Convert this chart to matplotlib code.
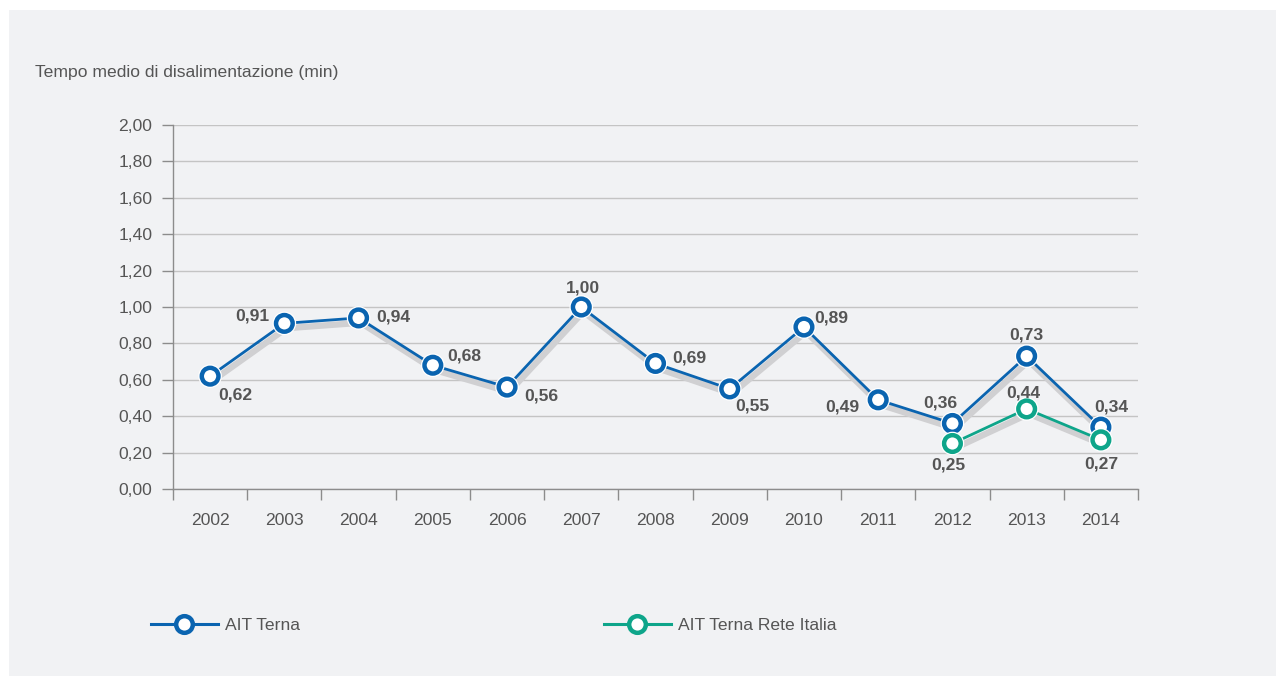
import matplotlib
matplotlib.use("Agg")
import matplotlib.pyplot as plt
import matplotlib.patheffects as pe
from matplotlib.patches import Rectangle
from matplotlib.lines import Line2D
from matplotlib.ticker import FixedLocator, FuncFormatter

plt.rcParams["font.family"] = ["Liberation Sans", "DejaVu Sans"]

# --- data -------------------------------------------------------------
years = ["2002", "2003", "2004", "2005", "2006", "2007", "2008",
         "2009", "2010", "2011", "2012", "2013", "2014"]
ait_terna = [0.62, 0.91, 0.94, 0.68, 0.56, 1.00, 0.69,
             0.55, 0.89, 0.49, 0.36, 0.73, 0.34]
rete_years = ["2012", "2013", "2014"]
ait_rete_italia = [0.25, 0.44, 0.27]
y_ticks = [0.0, 0.2, 0.4, 0.6, 0.8, 1.0, 1.2, 1.4, 1.6, 1.8, 2.0]
series_names = ["AIT Terna", "AIT Terna Rete Italia"]
y_title = "Tempo medio di disalimentazione (min)"

# label placement (pixel offsets from each point)
terna_offsets = [(25, -19), (-32, 7), (35, 1), (31, 9), (34, -9), (2, 19),
                 (34, 5), (23, -17), (27, 9), (-36, -7), (-12, 20), (0, 21),
                 (10, 20)]
rete_offsets = [(-4, -22), (-3, 16), (0, -24)]

BLUE = "#0a64b0"
GREEN = "#0ea58a"
TEXT = "#555555"
GRID = "#c4c4c4"
AXIS = "#8c8c8c"
PANEL = "#f1f2f4"
FS = 12.6

W, H = 1284, 685
fig = plt.figure(figsize=(W / 100, H / 100), dpi=100)
fig.patch.set_facecolor("white")
fig.patches.append(Rectangle((9 / W, 1 - 676 / H), (1276 - 9) / W, (676 - 10) / H,
                             transform=fig.transFigure, facecolor=PANEL,
                             edgecolor="none", zorder=-10))

ax = fig.add_axes([173 / W, 1 - 489 / H, (1138 - 173) / W, (489 - 125) / H])
ax.set_facecolor("none")
ax.set_zorder(2)

x_terna = list(range(len(years)))
x_rete = [years.index(y) for y in rete_years]

shadow = [pe.SimpleLineShadow(offset=(1.5, -3.5), shadow_color="#d0d0d2",
                              alpha=1, linewidth=4.5), pe.Normal()]

def draw_series(xs, ys, color, offsets):
    ax.plot(xs, ys, color=color, lw=2, zorder=3, path_effects=shadow,
            solid_capstyle="round")
    ax.plot(xs, ys, ls="none", marker="o", ms=12, mfc="white", mec=color,
            mew=3.2, zorder=4,
            path_effects=[pe.Stroke(linewidth=5, foreground="white"), pe.Normal()])
    for x, v, (dx, dy) in zip(xs, ys, offsets):
        ax.annotate(f"{v:.2f}".replace(".", ","), (x, v), xytext=(dx, dy),
                    textcoords="offset pixels", ha="center", va="center",
                    fontsize=FS, fontweight="bold", color=TEXT, zorder=5)

draw_series(x_terna, ait_terna, BLUE, terna_offsets)
draw_series(x_rete, ait_rete_italia, GREEN, rete_offsets)

ax.set_xlim(-0.5, len(years) - 0.5)
ax.set_ylim(0, 2.0)

ax.set_yticks(y_ticks)
ax.yaxis.set_major_formatter(FuncFormatter(lambda v, _: f"{v:.2f}".replace(".", ",")))
ax.tick_params(axis="y", length=8, width=1, color=AXIS, labelsize=FS,
               labelcolor=TEXT, pad=7)
ax.yaxis.grid(True, color=GRID, lw=1)
ax.set_axisbelow(True)

ax.set_xticks(x_terna)
ax.set_xticklabels(years)
ax.xaxis.set_minor_locator(FixedLocator([i - 0.5 for i in range(len(years) + 1)]))
ax.tick_params(axis="x", which="major", length=0, labelsize=FS,
               labelcolor=TEXT, pad=17)
ax.tick_params(axis="x", which="minor", length=8, width=1, color=AXIS)

for s in ("top", "right"):
    ax.spines[s].set_visible(False)
for s in ("left", "bottom"):
    ax.spines[s].set_color(AXIS)
    ax.spines[s].set_linewidth(1)

fig.text(35 / W, 1 - 73 / H, y_title, fontsize=FS, color=TEXT,
         ha="left", va="center")

# legend entries
for name, color, x0 in ((series_names[0], BLUE, 151), (series_names[1], GREEN, 604)):
    handle = Line2D([], [], color=color, lw=2.2, marker="o", ms=12,
                    mfc="white", mec=color, mew=3.2)
    fig.legend([handle], [name], loc="center left",
               bbox_to_anchor=(x0 / W, 1 - 625 / H), frameon=False,
               handlelength=3.8, handletextpad=0.45, fontsize=FS,
               labelcolor=TEXT, borderpad=0, borderaxespad=0)

fig.savefig("out.png", dpi=100, facecolor=fig.get_facecolor())
